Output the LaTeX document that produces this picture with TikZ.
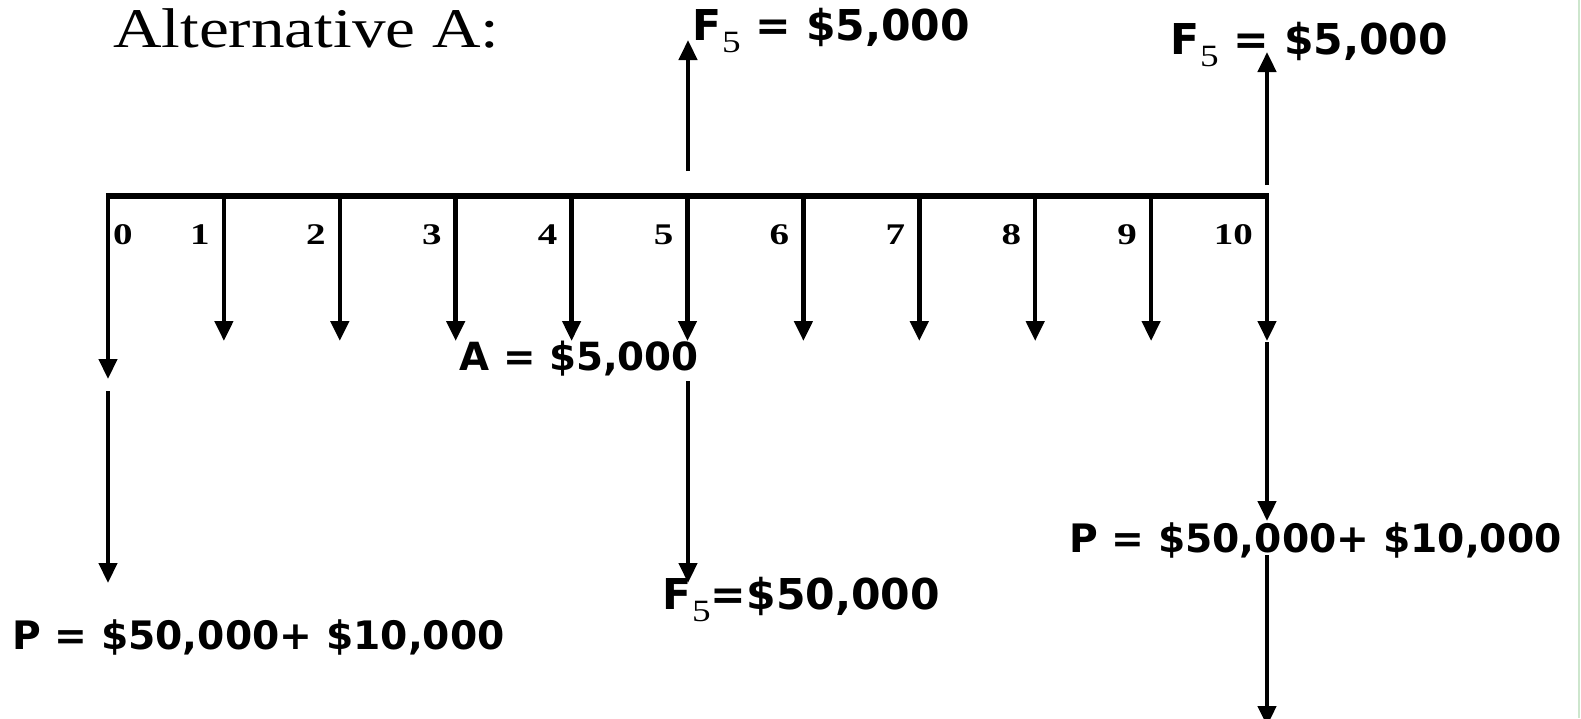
\documentclass[tikz,border=0pt]{standalone}
\usepackage{fontspec}
\setmainfont{Liberation Serif}
\newfontfamily\labfont{DejaVu Sans}
\usetikzlibrary{arrows.meta}
\tikzset{
  axisline/.style={line width=6pt},
  flow/.style={line width=4.5pt,-{Triangle[length=20pt,width=18pt]}},
  ticklab/.style={anchor=base east,inner sep=0pt,font=\fontsize{30}{30}\selectfont\bfseries},
  cash/.style={inner sep=0pt,font=\labfont\fontsize{39.2}{40}\selectfont\bfseries},
  cashf/.style={inner sep=0pt,font=\labfont\fontsize{42.5}{43}\selectfont\bfseries},
  title/.style={anchor=base west,inner sep=0pt,font=\fontsize{56}{56}\selectfont},
}
\newcommand{\subfive}{\hspace{1pt}\raisebox{-12pt}{\rmfamily\mdseries\fontsize{31}{31}\selectfont\scalebox{1.2}[1]{5}}}
\newcommand{\wide}[1]{\scalebox{1.3}[1]{#1}}
\begin{document}
\begin{tikzpicture}[x=1pt,y=-1pt]
\useasboundingbox (0,0) rectangle (1581,718);
\fill[white] (0,0) rectangle (1581,718);
\draw[line width=1.5pt,color={rgb,255:red,205;green,230;blue,205}] (1579,0) -- (1579,718);
% axis coordinates
\foreach \i in {0,...,10}{
  \coordinate (t\i) at ({108+115.9*\i},196);
  \coordinate (d\i) at ({108+115.9*\i},341);
}
\coordinate (d0) at (108,379);
\draw[axisline] ([xshift=-2.25pt]t0) -- ([xshift=2.25pt]t10);
\foreach \i in {0,...,10}{
  \draw[flow] ([yshift=-1pt]t\i) -- (d\i);
}
% tick labels
\node[anchor=base west,inner sep=0pt,font=\fontsize{30}{30}\selectfont\bfseries] (n0) at (113,244) {\wide{0}};
\foreach \i in {1,...,10}{
  \node[ticklab] (n\i) at ({108+115.9*\i-14},244) {\wide{\i}};
}
% title
\node[title] (title) at (113,47) {\scalebox{1.2}[1]{Alternative A:}};
% upward arrows
\coordinate (u5s) at (688,171);
\coordinate (u5e) at (688,40);
\coordinate (u10s) at (1267,185);
\coordinate (u10e) at (1267,52);
\draw[flow] (u5s) -- (u5e);
\draw[flow] (u10s) -- (u10e);
\node[cashf,anchor=base west] (f5a) at (692,40) {F\subfive{} = \$5,000};
\node[cashf,anchor=base west] (f5b) at (1170,54) {F\subfive{} = \$5,000};
% A label
\node[cash,anchor=base east,font=\labfont\fontsize{38.8}{39}\selectfont\bfseries] (alab) at (699,370) {A = \$5,000};
% lower arrows
\coordinate (p0s) at (108,391);
\coordinate (p0e) at (108,583);
\draw[flow] (p0s) -- (p0e);
\coordinate (f5s) at (688,381);
\coordinate (f5e) at (688,583);
\draw[flow] (f5s) -- (f5e);
\coordinate (p10s) at (1267,342);
\coordinate (p10e) at (1267,521);
\draw[flow] (p10s) -- (p10e);
\coordinate (p10t) at (1267,555);
\coordinate (p10b) at (1267,726);
\draw[flow] (p10t) -- (p10b);
% lower labels
\node[cashf,anchor=base west] (f5c) at (662,609) {F\subfive{}=\$50,000};
\node[cash,anchor=base west] (pright) at (1069,552) {P = \$50,000+ \$10,000};
\node[cash,anchor=base west] (pleft) at (12,649) {P = \$50,000+ \$10,000};
\end{tikzpicture}
\end{document}
